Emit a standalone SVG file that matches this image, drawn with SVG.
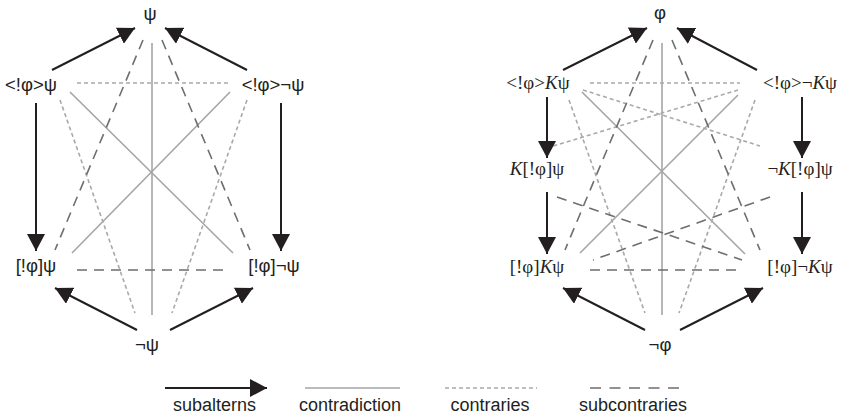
<svg xmlns="http://www.w3.org/2000/svg" width="843" height="418" viewBox="0 0 843 418">
<defs>
<marker id="ah" markerUnits="userSpaceOnUse" viewBox="0 0 17 18" markerWidth="17" markerHeight="18" refX="17" refY="9" orient="auto">
<path d="M0,0 L17,9 L0,18 z" fill="#231f20"/>
</marker>
<style>
.sub{stroke:#231f20;stroke-width:2;fill:none;marker-end:url(#ah)}
.con{stroke:#a4a5a7;stroke-width:1.6;fill:none}
.ctr{stroke:#a9a9ab;stroke-width:1.6;fill:none;stroke-dasharray:4 3}
.sbc{stroke:#6d6e71;stroke-width:1.6;fill:none;stroke-dasharray:10 7}
.s{font-family:"Liberation Sans",Arial,sans-serif;font-size:18.5px;fill:#231f20;text-anchor:middle}
.r{font-family:"Liberation Serif","Times New Roman",serif;font-size:19px;fill:#231f20;text-anchor:middle}
.lg{font-family:"Liberation Sans",Arial,sans-serif;font-size:18px;fill:#231f20;text-anchor:middle}
</style>
</defs>
<rect width="843" height="418" fill="#fff"/>
<g id="connectors">
<!-- left diagram -->
<line class="con" x1="152" y1="43" x2="152" y2="315"/>
<line class="con" x1="70" y1="92" x2="233" y2="253"/>
<line class="con" x1="230" y1="92" x2="72" y2="253"/>
<line class="ctr" x1="77" y1="83" x2="228" y2="83"/>
<line class="ctr" x1="60" y1="100" x2="135" y2="313"/>
<line class="ctr" x1="247" y1="100" x2="172" y2="313"/>
<line class="sbc" x1="77" y1="270" x2="226" y2="270"/>
<line class="sbc" x1="143" y1="40" x2="55" y2="250"/>
<line class="sbc" x1="162" y1="40" x2="250" y2="250"/>
<line class="sub" x1="52" y1="70" x2="135" y2="28"/>
<line class="sub" x1="247" y1="70" x2="165" y2="28"/>
<line class="sub" x1="36" y1="103" x2="36" y2="251"/>
<line class="sub" x1="281" y1="103" x2="281" y2="251"/>
<line class="sub" x1="137" y1="330" x2="55" y2="288"/>
<line class="sub" x1="170" y1="330" x2="253" y2="288"/>
<!-- right diagram -->
<line class="con" x1="662" y1="43" x2="662" y2="315"/>
<line class="con" x1="582" y1="92" x2="745" y2="254"/>
<line class="con" x1="738" y1="95" x2="580" y2="253"/>
<line class="ctr" x1="590" y1="83" x2="740" y2="83"/>
<line class="ctr" x1="583" y1="90" x2="760" y2="146"/>
<line class="ctr" x1="738" y1="90" x2="550" y2="147"/>
<line class="ctr" x1="569" y1="100" x2="645" y2="313"/>
<line class="ctr" x1="755" y1="100" x2="679" y2="313"/>
<line class="sbc" x1="590" y1="270" x2="738" y2="270"/>
<line class="sbc" x1="653" y1="40" x2="565" y2="250"/>
<line class="sbc" x1="672" y1="40" x2="760" y2="250"/>
<line class="sbc" x1="557" y1="197" x2="742" y2="260"/>
<line class="sbc" x1="770" y1="197" x2="593" y2="260"/>
<line class="sub" x1="563" y1="70" x2="647" y2="28"/>
<line class="sub" x1="757" y1="70" x2="677" y2="28"/>
<line class="sub" x1="547" y1="97" x2="547" y2="158"/>
<line class="sub" x1="547" y1="192" x2="547" y2="254"/>
<line class="sub" x1="802" y1="97" x2="802" y2="158"/>
<line class="sub" x1="802" y1="192" x2="802" y2="254"/>
<line class="sub" x1="645" y1="330" x2="563" y2="288"/>
<line class="sub" x1="680" y1="330" x2="763" y2="288"/>
</g>
<g id="left-top"><text class="s" x="150" y="20">ψ</text></g>
<g id="left-ul"><text class="s" x="31" y="91">&lt;!φ&gt;ψ</text></g>
<g id="left-ur"><text class="s" x="273" y="91">&lt;!φ&gt;¬ψ</text></g>
<g id="left-ll"><text class="s" x="36" y="272">[!φ]ψ</text></g>
<g id="left-lr"><text class="s" x="274" y="272">[!φ]¬ψ</text></g>
<g id="left-bottom"><text class="s" x="147" y="351">¬ψ</text></g>
<g id="right-top"><text class="s" x="660" y="19">φ</text></g>
<g id="right-ul"><text class="r" x="538" y="89">&lt;!φ&gt;<tspan font-style="italic">K</tspan>ψ</text></g>
<g id="right-ur"><text class="r" x="800" y="89">&lt;!φ&gt;¬<tspan font-style="italic">K</tspan>ψ</text></g>
<g id="right-ml"><text class="r" x="537" y="175"><tspan font-style="italic">K</tspan>[!φ]ψ</text></g>
<g id="right-mr"><text class="r" x="800" y="175">¬<tspan font-style="italic">K</tspan>[!φ]ψ</text></g>
<g id="right-ll"><text class="r" x="537" y="273">[!φ]<tspan font-style="italic">K</tspan>ψ</text></g>
<g id="right-lr"><text class="r" x="800" y="273">[!φ]¬<tspan font-style="italic">K</tspan>ψ</text></g>
<g id="right-bottom"><text class="s" x="660" y="351">¬φ</text></g>
<g id="legend">
<line class="sub" x1="165" y1="388" x2="267" y2="388"/>
<line class="con" x1="305" y1="388" x2="400" y2="388"/>
<line class="ctr" x1="445" y1="388" x2="537" y2="388"/>
<line class="sbc" x1="590" y1="388" x2="680" y2="388" style="stroke-dasharray:11 8.5"/>
<text class="lg" x="214.5" y="411">subalterns</text>
<text class="lg" x="350" y="411">contradiction</text>
<text class="lg" x="490" y="411">contraries</text>
<text class="lg" x="633" y="411">subcontraries</text>
</g>
</svg>
